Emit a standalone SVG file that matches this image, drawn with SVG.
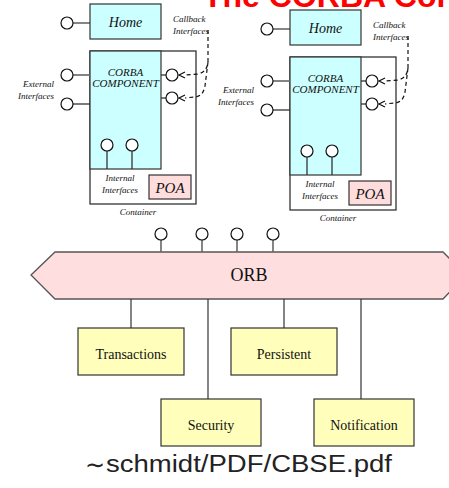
<svg xmlns="http://www.w3.org/2000/svg" width="449" height="488" viewBox="0 0 449 488">
<style>
.cyan{fill:#ccffff;stroke:#333;stroke-width:1.2}
.cont{fill:#fff;stroke:#222;stroke-width:1.2}
.poa{fill:#ffdddd;stroke:#333;stroke-width:1.2}
.svc{fill:#ffffbb;stroke:#333;stroke-width:1.2}
.ball{fill:#fff;stroke:#111;stroke-width:1.2}
.stem{stroke:#333;stroke-width:1.3;fill:none}
.gstem{stroke:#666;stroke-width:1.6;fill:none}
.dash{stroke:#111;stroke-width:1.2;fill:none;stroke-dasharray:4 3}
.chev{stroke:#111;stroke-width:1.2;fill:none}
.it{font-family:"Liberation Serif",serif;font-style:italic;fill:#111}
.sm{font-size:9px}
.rm{font-family:"Liberation Serif",serif;fill:#111}
.conn{stroke:#333;stroke-width:1.2;fill:none}
</style>
<defs>
<g id="block">
  <g id="home">
    <line class="gstem" x1="73" y1="23" x2="90" y2="23"/>
    <circle class="ball" cx="67" cy="23" r="6"/>
    <rect class="cyan" x="90" y="4" width="71" height="35"/>
    <text class="it" x="125.5" y="27" font-size="14" text-anchor="middle">Home</text>
  </g>
  <text class="it sm" x="173" y="22">Callback</text>
  <text class="it sm" x="173" y="34">Interfaces</text>
  <rect class="cont" x="90" y="51" width="106" height="153"/>
  <rect class="cyan" x="90" y="51" width="71" height="118"/>
  <text class="it" x="125.5" y="76" font-size="11" text-anchor="middle">CORBA</text>
  <text class="it" x="125.5" y="87" font-size="11" text-anchor="middle">COMPONENT</text>
  <line class="gstem" x1="73" y1="75" x2="90" y2="75"/>
  <circle class="ball" cx="67" cy="75" r="6"/>
  <line class="stem" x1="73" y1="104" x2="90" y2="104"/>
  <circle class="ball" cx="67" cy="104" r="6"/>
  <text class="it sm" x="54" y="87" text-anchor="end">External</text>
  <text class="it sm" x="54" y="99" text-anchor="end">Interfaces</text>
  <line class="stem" x1="161" y1="75" x2="166" y2="75"/>
  <circle class="ball" cx="172" cy="75" r="6"/>
  <line class="stem" x1="161" y1="98" x2="166" y2="98"/>
  <circle class="ball" cx="172" cy="98" r="6"/>
  <path class="chev" d="M185,72 L179,75 L185,78 M185,95 L179,98 L185,101"/>
  <path class="dash" d="M208,30 L208,62 Q207,72 198,74 L185,75"/>
  <path class="dash" d="M208,62 L205,86 Q203,97 194,97 L185,98"/>
  <line class="stem" x1="107" y1="151" x2="107" y2="169" stroke-width="2.2"/>
  <circle class="ball" cx="107" cy="145" r="6" stroke-width="1.8"/>
  <line class="stem" x1="132" y1="151" x2="132" y2="169"/>
  <circle class="ball" cx="132" cy="145" r="6"/>
  <text class="it sm" x="120" y="181" text-anchor="middle">Internal</text>
  <text class="it sm" x="120" y="193" text-anchor="middle">Interfaces</text>
  <rect class="poa" x="149" y="175" width="42" height="24"/>
  <text class="it" x="170" y="193" font-size="15" text-anchor="middle">POA</text>
  <text class="it sm" x="138" y="215" text-anchor="middle">Container</text>
</g>
</defs>
<text x="203" y="6.5" font-family="Liberation Sans,Arial,sans-serif" font-weight="bold" font-size="32" fill="#ff0000">The CORBA Cor</text>
<g id="component-left"><use href="#block"/></g>
<g id="component-right" transform="translate(200,6)"><use href="#block"/></g>
<g id="orb">
  <polygon points="31,275 55,252 443,252 466,275 443,299 55,299" fill="#ffdee0" stroke="#555" stroke-width="1.3"/>
  <text class="rm" x="249" y="281" font-size="18" text-anchor="middle">ORB</text>
  <line class="gstem" x1="161" y1="240" x2="161" y2="252"/>
  <circle class="ball" cx="161" cy="234" r="6"/>
  <line class="gstem" x1="202" y1="240" x2="202" y2="252"/>
  <circle class="ball" cx="202" cy="234" r="6"/>
  <line class="gstem" x1="237" y1="240" x2="237" y2="252"/>
  <circle class="ball" cx="237" cy="234" r="6"/>
  <line class="gstem" x1="273" y1="240" x2="273" y2="252"/>
  <circle class="ball" cx="273" cy="234" r="6"/>
</g>
<g id="connectors">
  <line class="conn" x1="131" y1="299" x2="131" y2="328"/>
  <line class="conn" x1="208" y1="299" x2="208" y2="399"/>
  <line class="conn" x1="284" y1="299" x2="284" y2="328"/>
  <line class="conn" x1="361" y1="299" x2="361" y2="399"/>
</g>
<g id="transactions">
  <rect class="svc" x="78" y="328" width="106" height="47"/>
  <text class="rm" x="131" y="359" font-size="14" text-anchor="middle">Transactions</text>
</g>
<g id="persistent">
  <rect class="svc" x="231" y="328" width="106" height="47"/>
  <text class="rm" x="284" y="359" font-size="14" text-anchor="middle">Persistent</text>
</g>
<g id="security">
  <rect class="svc" x="161" y="399" width="100" height="47"/>
  <text class="rm" x="211" y="430" font-size="14" text-anchor="middle">Security</text>
</g>
<g id="notification">
  <rect class="svc" x="314" y="399" width="100" height="47"/>
  <text class="rm" x="364" y="430" font-size="14" text-anchor="middle">Notification</text>
</g>
<text x="85" y="472" font-family="Liberation Sans,Arial,sans-serif" font-size="23" fill="#222"><tspan font-family="DejaVu Sans,sans-serif" font-size="24" dy="1">∼</tspan><tspan x="106" dy="-1" textLength="286" lengthAdjust="spacingAndGlyphs">schmidt/PDF/CBSE.pdf</tspan></text>
</svg>
